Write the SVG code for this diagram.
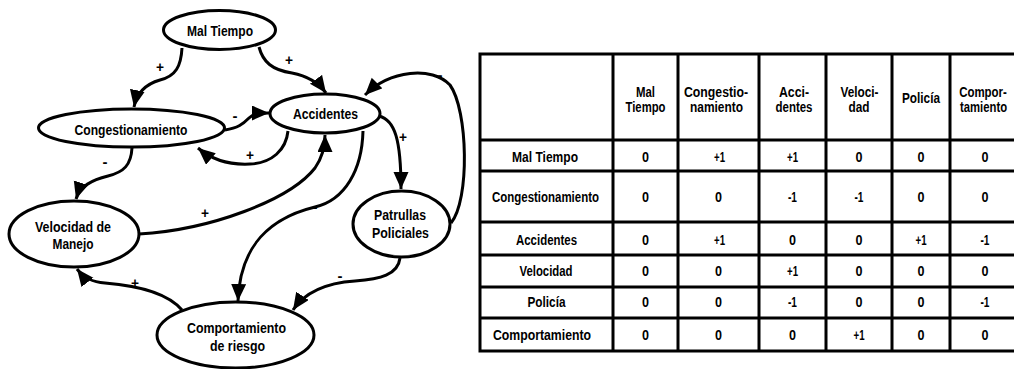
<svg xmlns="http://www.w3.org/2000/svg" width="1014" height="369" viewBox="0 0 1014 369">
<style>
text{font-family:"Liberation Sans",Arial,sans-serif;font-weight:bold;fill:#000;text-anchor:middle}
.n{font-size:15px}
.t{font-size:14.5px}
.s{font-size:15px}
ellipse{fill:#fff;stroke:#000;stroke-width:3}
.e path{fill:none;stroke:#000;stroke-width:3;marker-end:url(#ah)}
.g line{stroke:#000;stroke-width:3}
</style>
<defs>
<marker id="ah" markerUnits="userSpaceOnUse" markerWidth="18" markerHeight="16" refX="17" refY="7.5" orient="auto" viewBox="0 0 18 16">
<path d="M0,0 L17,7.5 L0,15 z" fill="#000"/>
</marker>
</defs>
<rect width="1014" height="369" fill="#fff"/>
<g class="e" id="connectors">
<path d="M182,48 C181,66 176,76 160,80 C146,84 137,92 134,107"/>
<path d="M259,47 C263,62 272,70 292,73 C308,76 318,82 326,93"/>
<path d="M225,130 C238,128 243,124 249,118 C254,113 260,113 269,113"/>
<path d="M288,131 C286,150 272,163 250,164 C230,165 212,160 198,148"/>
<path d="M132,148 C131,165 124,172 108,176 C92,180 80,186 76,199"/>
<path d="M139,234 C210,230 290,200 315,168 C322,158 325,148 325,135"/>
<path d="M363,131 C362,170 345,200 315,207 C270,218 240,245 238,301"/>
<path d="M379,116 C395,120 401,140 401,189"/>
<path d="M451,223 C470,200 468,110 450,85 C432,66 390,70 365,95"/>
<path d="M400,258 C398,275 380,279 355,281 C325,283 305,292 293,310"/>
<path d="M182,310 C165,290 130,285 105,283 C92,282 84,278 77,269"/>
<text class="s" x="160" y="72" textLength="8" lengthAdjust="spacingAndGlyphs">+</text>
<text class="s" x="289" y="65" textLength="8" lengthAdjust="spacingAndGlyphs">+</text>
<text class="s" x="235" y="121">-</text>
<text class="s" x="250" y="160" textLength="8" lengthAdjust="spacingAndGlyphs">+</text>
<text class="s" x="105" y="167">-</text>
<text class="s" x="205" y="218" textLength="8" lengthAdjust="spacingAndGlyphs">+</text>
<text class="s" x="315" y="212">-</text>
<text class="s" x="403" y="142" textLength="8" lengthAdjust="spacingAndGlyphs">+</text>
<text class="s" x="440" y="80">-</text>
<text class="s" x="340" y="281">-</text>
<text class="s" x="135" y="288" textLength="8" lengthAdjust="spacingAndGlyphs">+</text>
</g>
<g id="mal-tiempo"><ellipse cx="219.5" cy="30" rx="56" ry="19.5"/><text class="n" x="220" y="35.5" textLength="66" lengthAdjust="spacingAndGlyphs">Mal Tiempo</text></g>
<g id="congestionamiento"><ellipse cx="131.5" cy="128" rx="93" ry="19"/><text class="n" x="131" y="134.5" textLength="113" lengthAdjust="spacingAndGlyphs">Congestionamiento</text></g>
<g id="accidentes"><ellipse cx="325" cy="113.5" rx="55" ry="19.5"/><text class="n" x="325.5" y="119" textLength="65" lengthAdjust="spacingAndGlyphs">Accidentes</text></g>
<g id="velocidad"><ellipse cx="74" cy="234" rx="65" ry="33"/><text class="n" x="73" y="231.5" textLength="76" lengthAdjust="spacingAndGlyphs">Velocidad de</text><text class="n" x="73" y="249" textLength="41" lengthAdjust="spacingAndGlyphs">Manejo</text></g>
<g id="patrullas"><ellipse cx="401.5" cy="224" rx="48.5" ry="33"/><text class="n" x="400" y="220" textLength="52" lengthAdjust="spacingAndGlyphs">Patrullas</text><text class="n" x="400.5" y="238" textLength="57" lengthAdjust="spacingAndGlyphs">Policiales</text></g>
<g id="comportamiento"><ellipse cx="235.5" cy="335" rx="78.5" ry="33"/><text class="n" x="236.5" y="333" textLength="99" lengthAdjust="spacingAndGlyphs">Comportamiento</text><text class="n" x="237.5" y="350.5" textLength="55" lengthAdjust="spacingAndGlyphs">de riesgo</text></g>
<g id="table" class="g">
<path d="M1014,54 H480 V351 H1014" fill="#fff" stroke="#000" stroke-width="3"/>
<line x1="480" y1="140" x2="1014" y2="140"/>
<line x1="480" y1="171" x2="1014" y2="171"/>
<line x1="480" y1="222" x2="1014" y2="222"/>
<line x1="480" y1="255" x2="1014" y2="255"/>
<line x1="480" y1="287" x2="1014" y2="287"/>
<line x1="480" y1="318" x2="1014" y2="318"/>
<line x1="613" y1="54" x2="613" y2="351"/>
<line x1="678" y1="54" x2="678" y2="351"/>
<line x1="759" y1="54" x2="759" y2="351"/>
<line x1="826" y1="54" x2="826" y2="351"/>
<line x1="892" y1="54" x2="892" y2="351"/>
<line x1="950" y1="54" x2="950" y2="351"/>
<g>
<text class="t" x="645.5" y="97" textLength="19" lengthAdjust="spacingAndGlyphs">Mal</text><text class="t" x="645.5" y="112" textLength="40" lengthAdjust="spacingAndGlyphs">Tiempo</text>
<text class="t" x="716" y="97" textLength="64" lengthAdjust="spacingAndGlyphs">Congestio-</text><text class="t" x="716.5" y="112" textLength="53" lengthAdjust="spacingAndGlyphs">namiento</text>
<text class="t" x="794" y="97" textLength="30" lengthAdjust="spacingAndGlyphs">Acci-</text><text class="t" x="794" y="112" textLength="37" lengthAdjust="spacingAndGlyphs">dentes</text>
<text class="t" x="859.5" y="97" textLength="38" lengthAdjust="spacingAndGlyphs">Veloci-</text><text class="t" x="859" y="112" textLength="21" lengthAdjust="spacingAndGlyphs">dad</text>
<text class="t" x="921" y="103" textLength="38" lengthAdjust="spacingAndGlyphs">Policía</text>
<text class="t" transform="translate(983,97) scale(0.79,1)" x="0" y="0">Compor-</text><text class="t" transform="translate(983.5,112) scale(0.78,1)" x="0" y="0">tamiento</text>
<text class="t" x="545" y="162" textLength="66" lengthAdjust="spacingAndGlyphs">Mal Tiempo</text>
<text class="t" x="545.5" y="202" textLength="107" lengthAdjust="spacingAndGlyphs">Congestionamiento</text>
<text class="t" x="546.5" y="245" textLength="61" lengthAdjust="spacingAndGlyphs">Accidentes</text>
<text class="t" x="546" y="276" textLength="53" lengthAdjust="spacingAndGlyphs">Velocidad</text>
<text class="t" x="546.5" y="307" textLength="38" lengthAdjust="spacingAndGlyphs">Policía</text>
<text class="t" x="542" y="340" textLength="98" lengthAdjust="spacingAndGlyphs">Comportamiento</text>
</g>
<g>
<text class="t" x="645.5" y="162" textLength="7" lengthAdjust="spacingAndGlyphs">0</text><text class="t" x="719.5" y="162" textLength="11" lengthAdjust="spacingAndGlyphs">+1</text><text class="t" x="792.5" y="162" textLength="11" lengthAdjust="spacingAndGlyphs">+1</text><text class="t" x="859" y="162" textLength="7" lengthAdjust="spacingAndGlyphs">0</text><text class="t" x="921" y="162" textLength="7" lengthAdjust="spacingAndGlyphs">0</text><text class="t" x="985" y="162" textLength="7" lengthAdjust="spacingAndGlyphs">0</text>
<text class="t" x="645.5" y="202" textLength="7" lengthAdjust="spacingAndGlyphs">0</text><text class="t" x="718.5" y="202" textLength="7" lengthAdjust="spacingAndGlyphs">0</text><text class="t" x="792.5" y="202" textLength="9" lengthAdjust="spacingAndGlyphs">-1</text><text class="t" x="859" y="202" textLength="9" lengthAdjust="spacingAndGlyphs">-1</text><text class="t" x="921" y="202" textLength="7" lengthAdjust="spacingAndGlyphs">0</text><text class="t" x="985" y="202" textLength="7" lengthAdjust="spacingAndGlyphs">0</text>
<text class="t" x="645.5" y="245" textLength="7" lengthAdjust="spacingAndGlyphs">0</text><text class="t" x="719.5" y="245" textLength="11" lengthAdjust="spacingAndGlyphs">+1</text><text class="t" x="792.5" y="245" textLength="7" lengthAdjust="spacingAndGlyphs">0</text><text class="t" x="859" y="245" textLength="7" lengthAdjust="spacingAndGlyphs">0</text><text class="t" x="921" y="245" textLength="11" lengthAdjust="spacingAndGlyphs">+1</text><text class="t" x="985" y="245" textLength="9" lengthAdjust="spacingAndGlyphs">-1</text>
<text class="t" x="645.5" y="276" textLength="7" lengthAdjust="spacingAndGlyphs">0</text><text class="t" x="718.5" y="276" textLength="7" lengthAdjust="spacingAndGlyphs">0</text><text class="t" x="792.5" y="276" textLength="11" lengthAdjust="spacingAndGlyphs">+1</text><text class="t" x="859" y="276" textLength="7" lengthAdjust="spacingAndGlyphs">0</text><text class="t" x="921" y="276" textLength="7" lengthAdjust="spacingAndGlyphs">0</text><text class="t" x="985" y="276" textLength="7" lengthAdjust="spacingAndGlyphs">0</text>
<text class="t" x="645.5" y="307" textLength="7" lengthAdjust="spacingAndGlyphs">0</text><text class="t" x="718.5" y="307" textLength="7" lengthAdjust="spacingAndGlyphs">0</text><text class="t" x="792.5" y="307" textLength="9" lengthAdjust="spacingAndGlyphs">-1</text><text class="t" x="859" y="307" textLength="7" lengthAdjust="spacingAndGlyphs">0</text><text class="t" x="921" y="307" textLength="7" lengthAdjust="spacingAndGlyphs">0</text><text class="t" x="985" y="307" textLength="9" lengthAdjust="spacingAndGlyphs">-1</text>
<text class="t" x="645.5" y="340" textLength="7" lengthAdjust="spacingAndGlyphs">0</text><text class="t" x="718.5" y="340" textLength="7" lengthAdjust="spacingAndGlyphs">0</text><text class="t" x="792.5" y="340" textLength="7" lengthAdjust="spacingAndGlyphs">0</text><text class="t" x="859" y="340" textLength="11" lengthAdjust="spacingAndGlyphs">+1</text><text class="t" x="921" y="340" textLength="7" lengthAdjust="spacingAndGlyphs">0</text><text class="t" x="985" y="340" textLength="7" lengthAdjust="spacingAndGlyphs">0</text>
</g>
</g>
</svg>
